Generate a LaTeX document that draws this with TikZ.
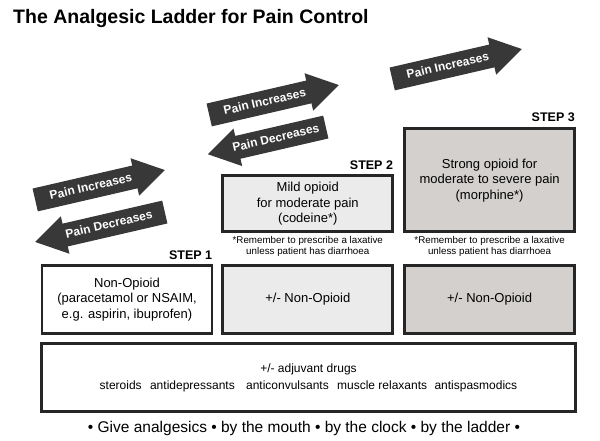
\documentclass[tikz,border=0pt]{standalone}
\usepackage{fontspec}
\setmainfont{Liberation Sans}
\usetikzlibrary{positioning,shapes.arrows}
\definecolor{lightrung}{HTML}{EBEBEB}
\definecolor{darkrung}{HTML}{D3D0CE}
\definecolor{arrowgray}{HTML}{383838}

\begin{document}
\begin{tikzpicture}[x=1pt,y=1pt,
    rung/.style={draw=black!85, line width=2.8pt, minimum width=170pt, align=center,
      inner sep=2pt, font=\fontsize{13}{15.5}\selectfont},
    steplabel/.style={font=\bfseries\fontsize{12.5}{15}\selectfont, inner sep=0pt},
    note/.style={font=\fontsize{9.8}{11.5}\selectfont, align=center, inner sep=0pt},
    painup/.style={single arrow, fill=arrowgray, text=white, rotate=13, anchor=tail,
      font=\bfseries\fontsize{12}{14}\selectfont, minimum height=133pt,
      single arrow head extend=7.5pt, single arrow tip angle=64,
      inner xsep=2pt, inner ysep=6.5pt, text height=8.5pt, text depth=1.5pt},
    paindown/.style={painup, shape border rotate=180}]
    \useasboundingbox (0,0) rectangle (600,440);
    \node[anchor=base west, inner sep=0pt, font=\bfseries\fontsize{19.5}{22}\selectfont]
      (title) at (13,416) {The Analgesic Ladder for Pain Control};
    % the ladder
    \node[rung, minimum height=68pt] (nonopioid) at (127,140.5)
      {Non-Opioid\\(paracetamol or NSAIM,\\e.g. aspirin, ibuprofen)};
    \node[rung, minimum height=68pt, fill=lightrung] (nonopioidtwo) [right=8pt of nonopioid] {+/- Non-Opioid};
    \node[rung, minimum height=68pt, fill=darkrung] (nonopioidthree) [right=9pt of nonopioidtwo] {+/- Non-Opioid};
    \node[rung, minimum height=56pt, fill=lightrung] (mild) [above=31pt of nonopioidtwo]
      {Mild opioid\\for moderate pain\\(codeine*)};
    \node[rung, minimum height=103pt, fill=darkrung] (strong) [above=31pt of nonopioidthree]
      {Strong opioid for\\moderate to severe pain\\(morphine*)};
    \node[rung, minimum width=534.5pt, minimum height=68pt, font=\fontsize{12}{17}\selectfont] (adjuvant) at (308.5,62.5)
      {+/- adjuvant drugs\\steroids\hspace{5pt} antidepressants\hspace{8pt} anticonvulsants\hspace{5pt} muscle relaxants\hspace{4pt} antispasmodics};
    \node[steplabel] (stepone) [above left=4.5pt and 1pt of nonopioid.north east] {STEP 1};
    \node[steplabel] (steptwo) [above left=4.5pt and 1pt of mild.north east] {STEP 2};
    \node[steplabel] (stepthree) [above left=5pt and 1pt of strong.north east] {STEP 3};
    \node[note] (mildnote) [below=3pt of mild] {*Remember to prescribe a laxative\\unless patient has diarrhoea};
    \node[note] (strongnote) [below=3pt of strong] {*Remember to prescribe a laxative\\unless patient has diarrhoea};
    % pain arrows, placed by their tails
    \node[painup] (upone) at (35,240) {Pain Increases};
    \node[paindown] (downone) at (165,228) {Pain Decreases};
    \node[painup] (uptwo) at (209,325) {Pain Increases};
    \node[paindown, minimum height=121pt] (downtwo) at (326,313) {Pain Decreases};
    \node[painup] (upthree) at (392,361) {Pain Increases};
    \node[anchor=base, inner sep=0pt, font=\fontsize{15.5}{18}\selectfont] (rules) at (304,7.5)
      {\textbullet{} Give analgesics \textbullet{} by the mouth \textbullet{} by the clock \textbullet{} by the ladder \textbullet};
\end{tikzpicture}
\end{document}
